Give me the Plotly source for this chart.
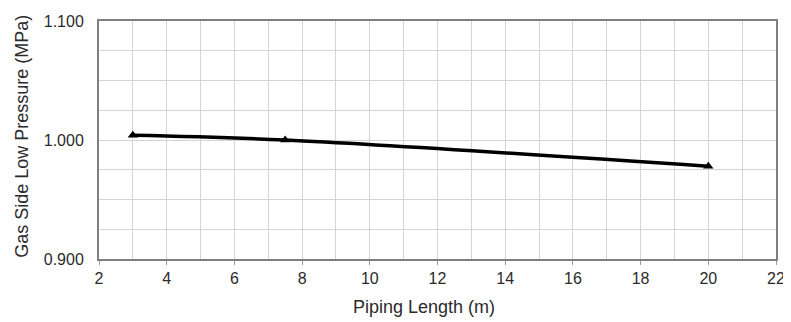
import plotly.graph_objects as go

# data
piping_length = [3, 7.5, 20]
low_pressure = [1.004, 1.000, 0.978]

fig = go.Figure(go.Scatter(
    x=piping_length, y=low_pressure,
    mode='lines+markers',
    line=dict(color='black', width=3.5, shape='spline'),
    marker=dict(symbol='triangle-up', size=9, color='black'),
    showlegend=False,
))

tick_font = dict(family='Liberation Sans, Arial', size=16, color='#2b2b2b')
title_font = dict(family='Liberation Sans, Arial', size=18, color='#2b2b2b')

# page body has an 8px margin, so the figure is shrunk and shifted to fit
fig.update_layout(
    width=783, height=314,
    margin=dict(l=91, r=15, t=13, b=63, autoexpand=False),
    paper_bgcolor='white', plot_bgcolor='white',
    font=tick_font,
    xaxis=dict(
        range=[2, 22], dtick=2, tick0=2, automargin=False,
        showgrid=True, gridcolor='#d4d4d4', gridwidth=1,
        minor=dict(dtick=1, showgrid=True, gridcolor='#d4d4d4'),
        ticks='outside', ticklen=4, tickcolor='#999999',
        showline=True, linecolor='#7f7f7f', linewidth=2, mirror=True,
        zeroline=False,
    ),
    yaxis=dict(
        range=[0.9, 1.1], dtick=0.1, tick0=0.9, tickformat='.3f', automargin=False,
        showgrid=True, gridcolor='#d4d4d4', gridwidth=1,
        minor=dict(dtick=0.025, showgrid=True, gridcolor='#d4d4d4'),
        ticks='', ticklabelstandoff=10,
        showline=True, linecolor='#7f7f7f', linewidth=2, mirror=True,
        zeroline=False,
    ),
)

# axis titles as annotations (x title sits a bit left of centre)
fig.add_annotation(text='Piping Length (m)', xref='paper', yref='paper',
                   x=0.48, y=-0.20, xanchor='center', yanchor='middle',
                   showarrow=False, font=title_font)
fig.add_annotation(text='Gas Side Low Pressure (MPa)', xref='paper', yref='paper',
                   x=-0.114, y=0.517, xanchor='center', yanchor='middle',
                   textangle=-90, showarrow=False, font=title_font)

fig.write_html("out.html")
